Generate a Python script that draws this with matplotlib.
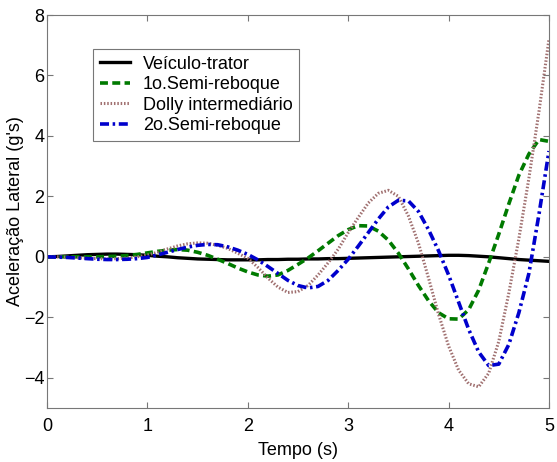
import matplotlib
matplotlib.use("Agg")
import matplotlib.pyplot as plt
import numpy as np

plt.rcParams['font.family'] = ['Liberation Sans', 'DejaVu Sans']

# time axis (s)
tempo = [round(0.1 * i, 1) for i in range(51)]

# lateral acceleration (g's)
veiculo_trator = [0, 0.01, 0.03, 0.05, 0.07, 0.08, 0.09, 0.09, 0.08, 0.07,
                  0.05, 0.02, 0, -0.03, -0.05, -0.07, -0.08, -0.09, -0.1, -0.1,
                  -0.1, -0.1, -0.09, -0.09, -0.08, -0.08, -0.07, -0.07, -0.06, -0.06,
                  -0.05, -0.04, -0.03, -0.02, -0.01, 0.0, 0.01, 0.02, 0.03, 0.04,
                  0.05, 0.05, 0.04, 0.02, 0.0, -0.03, -0.06, -0.09, -0.11, -0.13,
                  -0.15]
semi_reboque_1 = [0, 0, 0, 0, 0, 0, 0.01, 0.02, 0.04, 0.08,
                  0.13, 0.18, 0.22, 0.24, 0.22, 0.15, 0.05, -0.08, -0.22, -0.37,
                  -0.5, -0.6, -0.64, -0.6, -0.45, -0.25, -0.04, 0.2, 0.45, 0.7,
                  0.9, 1.03, 1.02, 0.85, 0.55, 0.12, -0.4, -0.95, -1.45, -1.85,
                  -2.05, -2.06, -1.75, -1.1, -0.2, 0.75, 1.75, 2.7, 3.4, 3.88,
                  3.82]
dolly = [0, 0, -0.01, -0.03, -0.05, -0.06, -0.07, -0.06, -0.04, 0.0,
         0.06, 0.15, 0.26, 0.36, 0.43, 0.46, 0.45, 0.38, 0.28, 0.12,
         -0.05, -0.35, -0.7, -1.0, -1.18, -1.15, -0.95, -0.6, -0.2, 0.25,
         0.8, 1.3, 1.78, 2.1, 2.2, 2.0, 1.35, 0.45, -0.7, -1.9,
         -2.95, -3.75, -4.2, -4.3, -3.85, -2.8, -1.2, 0.6, 2.6, 4.8,
         7.2]
semi_reboque_2 = [0, -0.01, -0.02, -0.04, -0.06, -0.08, -0.09, -0.09, -0.08, -0.06,
                  -0.02, 0.06, 0.15, 0.24, 0.32, 0.38, 0.41, 0.4, 0.33, 0.22,
                  0.08, -0.1, -0.32, -0.55, -0.78, -0.95, -1.03, -0.98, -0.78, -0.45,
                  -0.08, 0.35, 0.8, 1.25, 1.65, 1.87, 1.85, 1.5, 0.9, 0.2,
                  -0.6, -1.5, -2.4, -3.15, -3.6, -3.55, -2.9, -1.85, -0.55, 1.4,
                  3.5]

fig = plt.figure(figsize=(5.57, 4.62), dpi=100)
ax = fig.add_axes([0.0844, 0.117, 0.9012, 0.8505])

ax.plot(tempo, veiculo_trator, color='black', lw=2.4, label='Veículo-trator')
ax.plot(tempo, semi_reboque_1, color='#007a00', lw=2.6, ls=(0, (2.2, 1.2)),
        label='1o.Semi-reboque')
ax.plot(tempo, dolly, color='#a07070', lw=2.2, ls=(0, (0.5, 0.6)),
        label='Dolly intermediário')
ax.plot(tempo, semi_reboque_2, color='#0000cc', lw=2.6, ls=(0, (2.5, 1.0, 0.7, 1.0)),
        label='2o.Semi-reboque')

ax.set_xlim(0, 5)
ax.set_ylim(-5, 8)
ax.set_xticks(np.arange(0, 6, 1))
ax.set_yticks(np.arange(-4, 9, 2))
ax.tick_params(direction='in', top=True, right=True, labelsize=13,
               color='#777777', length=4)
ax.tick_params(axis='x', pad=7)
ax.tick_params(axis='y', pad=2)
for s in ax.spines.values():
    s.set_color('#777777')
ax.set_xlabel('Tempo (s)', fontsize=13, labelpad=5)
ax.set_ylabel("Aceleração Lateral (g's)", fontsize=13, labelpad=0)

leg = ax.legend(loc='upper left', bbox_to_anchor=(0.092, 0.913), fontsize=13,
                handlelength=1.7, handletextpad=0.7, labelspacing=0.2,
                borderpad=0.35, borderaxespad=0, fancybox=False, framealpha=1)
leg.get_frame().set_edgecolor('#777777')
leg.get_frame().set_linewidth(0.8)

fig.savefig('out.png', dpi=100)
